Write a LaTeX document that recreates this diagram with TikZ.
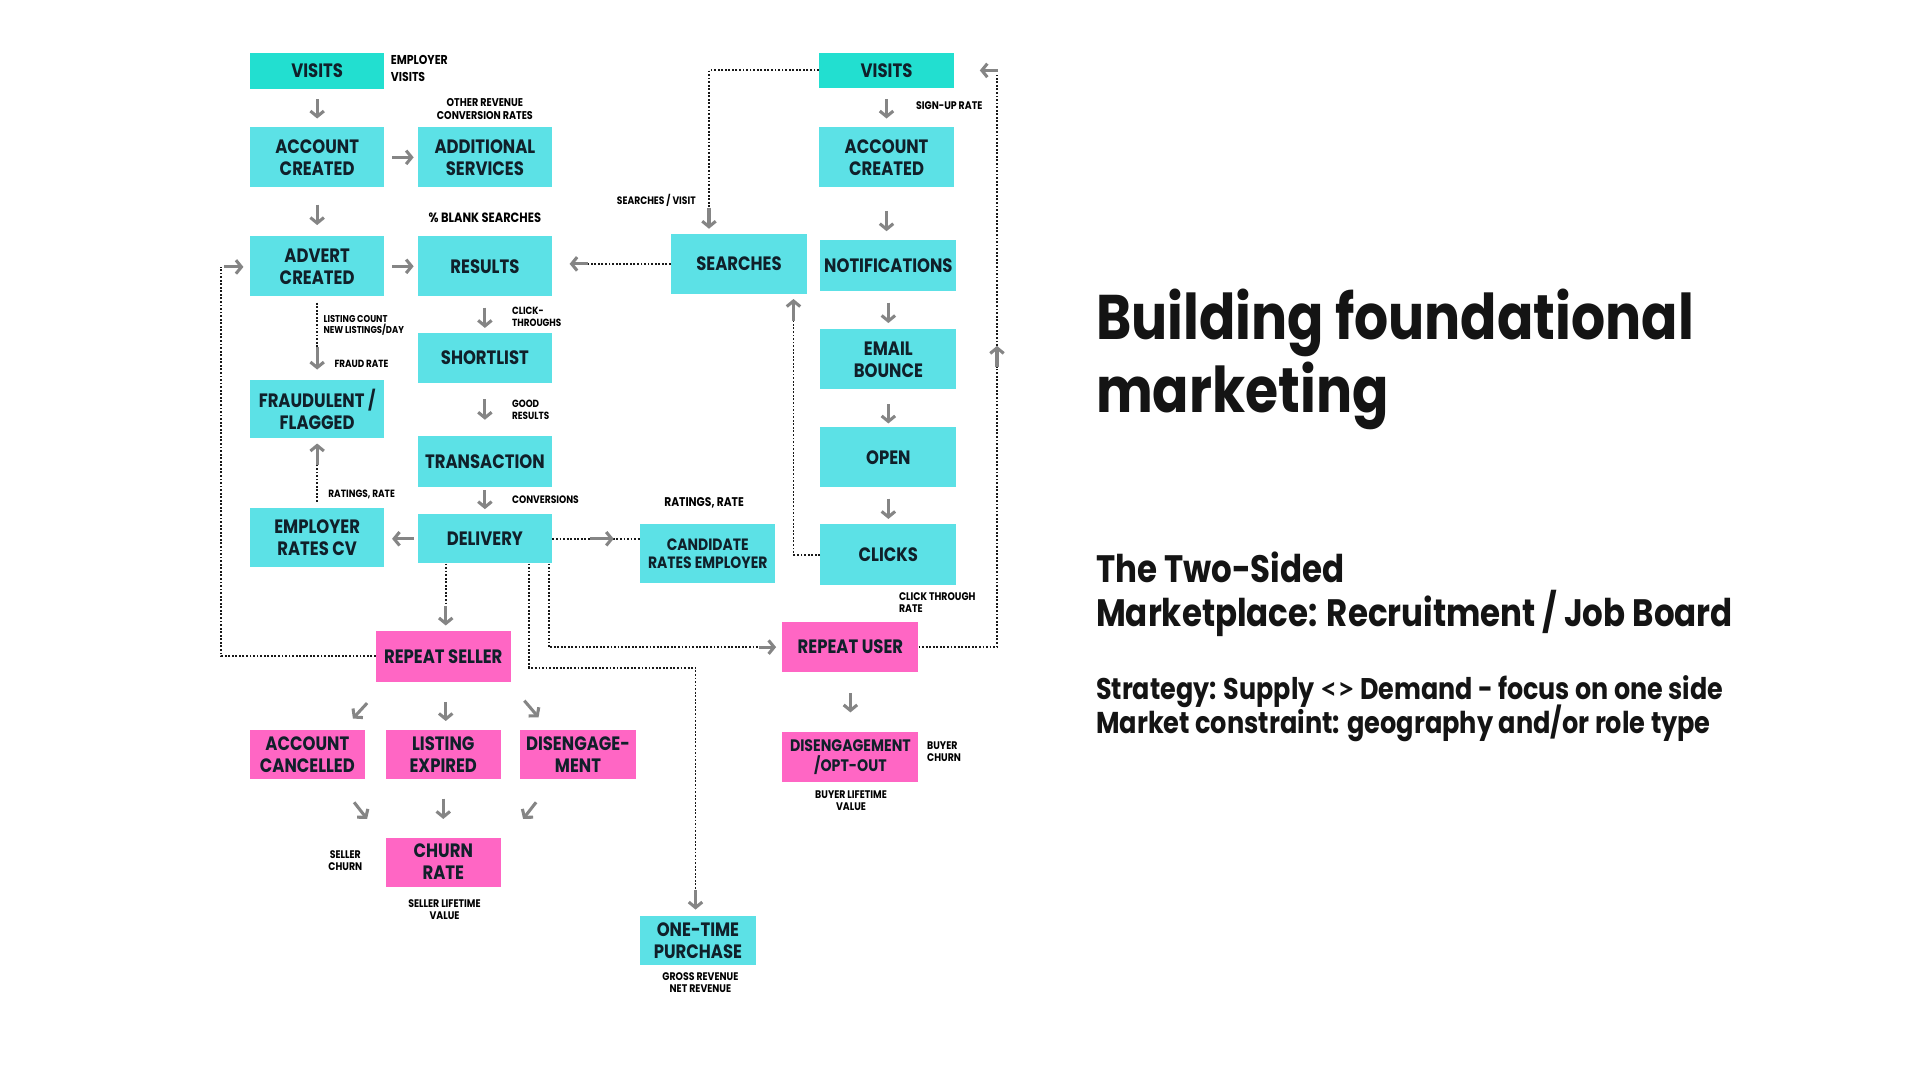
\documentclass[tikz,border=0pt]{standalone}
\usepackage{fontspec}
\setmainfont{Poppins}
\newfontfamily\pf[FakeStretch=0.85]{Poppins}
\newfontfamily\ltf{Lato}
\usetikzlibrary{arrows.meta,calc}
\definecolor{cy}{HTML}{5CE1E6}
\definecolor{tl}{HTML}{22DFD0}
\definecolor{pk}{HTML}{FF66C4}
\definecolor{tx}{HTML}{10202A}
\definecolor{ga}{HTML}{858585}
\begin{document}
\begin{tikzpicture}[
  x=1pt, y=-1pt,
  bx/.style={rectangle, inner sep=0pt, align=center, text=tx,
    font={\pf\bfseries\fontsize{15.8}{18}\selectfont},
    minimum width=110pt, minimum height=49pt},
  cyb/.style={bx, fill=cy},
  tlb/.style={bx, fill=tl},
  pkb/.style={bx, fill=pk},
  lb/.style={inner sep=0pt, text=black, font={\pf\bfseries\fontsize{9}{10}\selectfont}},
  hd/.style={inner sep=0pt, anchor=base west, text=black!92},
  garrow/.style={draw=ga, line width=2.5pt, -{Straight Barb[length=4.5pt,width=11pt]}},
  dots/.style={draw=black!90, line width=1.6pt, dash pattern=on 1.5pt off 1.4pt},
]
\useasboundingbox[fill=white] (0,0) rectangle (1568,882);

% ---------- boxes ----------
\node[tlb, minimum height=30pt] (vL) at (259,58) {VISITS};
\node[cyb] (acL) at (259,128.5) {ACCOUNT\\CREATED};
\node[cyb] (add) at (396,128.5) {ADDITIONAL\\SERVICES};
\node[cyb] (adv) at (259,217.5) {ADVERT\\CREATED};
\node[cyb] (res) at (396,217.5) {RESULTS};
\node[cyb, minimum width=111pt] (srch) at (603.5,215.5) {SEARCHES};
\node[tlb, minimum height=29pt] (vR) at (724,57.5) {VISITS};
\node[cyb] (acR) at (724,128.5) {ACCOUNT\\CREATED};
\node[cyb, minimum width=111pt, minimum height=42pt] (notif) at (725.5,217) {NOTIFICATIONS};
\node[cyb, minimum width=111pt] (email) at (725.5,293.5) {EMAIL\\BOUNCE};
\node[cyb, minimum width=111pt] (open) at (725.5,373.5) {OPEN};
\node[cyb, minimum width=111pt, minimum height=50pt] (clicks) at (725.5,453) {CLICKS};
\node[cyb, minimum height=41pt] (short) at (396,292.5) {SHORTLIST};
\node[cyb, minimum height=42pt] (trans) at (396,377) {TRANSACTION};
\node[cyb, minimum height=40pt] (deliv) at (396,440) {DELIVERY};
\node[cyb, minimum height=48pt] (fraud) at (259,334) {FRAUDULENT /\\FLAGGED};
\node[cyb, minimum height=48pt] (emp) at (259,439) {EMPLOYER\\RATES CV};
\node[cyb, minimum height=48pt, font={\pf\bfseries\fontsize{13.4}{15}\selectfont}] (cand) at (578,452) {CANDIDATE\\RATES EMPLOYER};
\node[pkb, minimum height=42pt] (rsel) at (362,536) {REPEAT SELLER};
\node[pkb, minimum width=111pt, minimum height=41pt] (ruser) at (694.5,528.5) {REPEAT USER};
\node[pkb, minimum width=111pt, minimum height=41pt, font={\pf\bfseries\fontsize{13.6}{16}\selectfont}] (opt) at (694.5,618.5) {DISENGAGEMENT\\/OPT-OUT};
\node[pkb, minimum width=94pt, minimum height=40pt] (acan) at (251,616) {ACCOUNT\\CANCELLED};
\node[pkb, minimum width=94pt, minimum height=40pt] (lexp) at (362,616) {LISTING\\EXPIRED};
\node[pkb, minimum width=94pt, minimum height=40pt] (dis) at (472,616) {DISENGAGE-\\MENT};
\node[pkb, minimum width=94pt, minimum height=40pt] (churn) at (362,704) {CHURN\\RATE};
\node[cyb, minimum width=94pt, minimum height=40pt] (one) at (570,768) {ONE-TIME\\PURCHASE};

% ---------- gray arrows ----------
\draw[garrow, shorten <=8pt, shorten >=7pt] (vL.south) -- (acL.north);
\draw[garrow, shorten <=6pt, shorten >=3pt] (acL.east) -- (add.west);
\draw[garrow, shorten <=14pt, shorten >=9pt] (acL.south) -- (adv.north);
\draw[garrow, shorten <=6pt, shorten >=3pt] (adv.east) -- (res.west);
\draw[garrow, shorten <=9pt, shorten >=4pt] (res.south) -- (short.north);
\draw[garrow, shorten <=13pt, shorten >=13pt] (short.south) -- (trans.north);
\draw[garrow, shorten <=2pt, shorten >=4pt] (trans.south) -- (deliv.north);
\draw[garrow, shorten <=3pt, shorten >=6pt] (deliv.west) -- (deliv.west -| emp.east);
\draw[garrow, shorten <=9pt, shorten >=7pt] (vR.south) -- (acR.north);
\draw[garrow, shorten <=19pt, shorten >=7pt] (acR.south) -- (acR.south |- notif.north);
\draw[garrow, shorten <=9pt, shorten >=5pt] (notif.south) -- (email.north);
\draw[garrow, shorten <=12pt, shorten >=3pt] (email.south) -- (open.north);
\draw[garrow, shorten <=9pt, shorten >=4pt] (open.south) -- (clicks.north);
\draw[garrow, shorten <=17pt, shorten >=16pt] (ruser.south) -- (opt.north);
\draw[garrow, shorten <=16pt, shorten >=7pt] ($(rsel.south)+(2,0)$) -- ($(lexp.north)+(2,0)$);
\draw[garrow, shorten <=16pt, shorten >=15pt] (lexp.south) -- (churn.north);
\draw[garrow] ($(rsel.south west)+(-7,17)$) -- ($(acan.north east)+(-10,-9)$);
\draw[garrow] ($(rsel.south east)+(11,15)$) -- ($(dis.north west)+(15,-10)$);
\draw[garrow] ($(acan.south east)+(-9,19)$) -- ($(churn.north west)+(-15,-15)$);
\draw[garrow] ($(dis.south west)+(13,19)$) -- ($(churn.north east)+(18,-15)$);

% ---------- dotted connectors ----------
% searches -> results
\draw[dots] (srch.west) -- ++(-68,0) coordinate (p1);
\draw[garrow, shorten >=14pt] (p1) -- (p1 -| res.east);
% visits (right) -> searches
\draw[dots] (vR.west) -| ($(srch.north)+(-24.5,-21)$) coordinate (p2);
\draw[garrow, shorten >=4pt] (p2) -- (p2 |- srch.north);
% clicks -> searches
\draw[dots] (clicks.west) -| ($(srch.south)+(44.5,22)$) coordinate (p3);
\draw[garrow, shorten >=4pt] (p3) -- (p3 |- srch.south);
% repeat user -> visits (right)
\draw[dots] (ruser.east) -| ($(vR.east)+(35,242)$) coordinate (p4);
\draw[garrow] (p4) -- ++(0,-17) coordinate (p5);
\draw[dots] (p5) -- ($(p5 |- vR.east)+(0,4)$);
\draw[garrow, shorten >=21pt] ($(p5 |- vR.east)+(1,0)$) -- (vR.east);
% repeat seller -> advert created
\draw[dots] (rsel.west) -| ($(adv.west)+(-23,0.5)$) coordinate (p7);
\draw[garrow, shorten <=2pt, shorten >=5pt] (p7) -- (adv.west |- p7);
% delivery -> candidate rates employer
\draw[dots] (deliv.east) -- (deliv.east -| cand.west);
\draw[garrow] ($(deliv.east)+(31,0)$) -- ($(deliv.east)+(50,0)$);
% delivery -> repeat seller
\draw[dots] ($(deliv.south)+(-32,0)$) -- ++(0,35) coordinate (p8);
\draw[garrow, shorten >=4pt] (p8) -- (p8 |- rsel.north);
% delivery -> one-time purchase
\draw[dots] ($(deliv.south)+(36,0)$) -- ++(0,85) -| ($(one.north)+(-2,-21)$) coordinate (p9);
\draw[garrow, shorten >=5pt] (p9) -- (p9 |- one.north);
% delivery -> repeat user
\draw[dots] ($(deliv.south)+(52,0)$) |- ($(ruser.west)+(-19,0)$) coordinate (p10);
\draw[garrow, shorten >=5pt] (p10) -- (ruser.west);
% advert created -> fraudulent
\draw[dots] ($(adv.south)+(0,5)$) -- ++(0,36) coordinate (p11);
\draw[garrow, shorten >=8pt] (p11) -- (fraud.north);
% employer rates cv -> fraudulent
\draw[dots] ($(emp.north)+(0,-5)$) -- ++(0,-30) coordinate (p12);
\draw[garrow, shorten >=4pt] (p12) -- (fraud.south);

% ---------- labels ----------
\node[lb, anchor=west, align=left, font={\pf\bfseries\fontsize{10.5}{14}\selectfont}] (l1) at (319,56) {EMPLOYER\\VISITS};
\node[lb, align=center, font={\pf\bfseries\fontsize{9.2}{10}\selectfont}] (l2) at (396,89) {OTHER REVENUE\\CONVERSION RATES};
\node[lb, font={\pf\bfseries\fontsize{11}{12}\selectfont}] (l3) at (396,178) {\% BLANK SEARCHES};
\node[lb, font={\pf\bfseries\fontsize{8.8}{10}\selectfont}] (l4) at (536,164) {SEARCHES / VISIT};
\node[lb, anchor=west] (l5) at (748,86) {SIGN-UP RATE};
\node[lb, anchor=west, align=left, font={\pf\bfseries\fontsize{8.1}{9}\selectfont}] (l6) at (264,265.5) {LISTING COUNT\\NEW LISTINGS/DAY};
\node[lb, anchor=west, font={\pf\bfseries\fontsize{8.5}{10}\selectfont}] (l7) at (273,297) {FRAUD RATE};
\node[lb, anchor=west, align=left, font={\pf\bfseries\fontsize{8.5}{10}\selectfont}] (l8) at (418,259) {CLICK-\\THROUGHS};
\node[lb, anchor=west, align=left, font={\pf\bfseries\fontsize{8.5}{9.5}\selectfont}] (l9) at (418,334.5) {GOOD\\RESULTS};
\node[lb, anchor=west, font={\pf\bfseries\fontsize{8.8}{10}\selectfont}] (l10) at (418,408) {CONVERSIONS};
\node[lb, anchor=west, font={\pf\bfseries\fontsize{8.6}{10}\selectfont}] (l11) at (268,404) {RATINGS, RATE};
\node[lb, font={\pf\bfseries\fontsize{10.3}{12}\selectfont}] (l12) at (575,411) {RATINGS, RATE};
\node[lb, anchor=west, align=left] (l13) at (734,492) {CLICK THROUGH\\RATE};
\node[lb, anchor=west, align=left] (l14) at (757,614) {BUYER\\CHURN};
\node[lb, align=center] (l15) at (695,654) {BUYER LIFETIME\\VALUE};
\node[lb, align=center] (l16) at (282,703) {SELLER\\CHURN};
\node[lb, align=center] (l17) at (363,743) {SELLER LIFETIME\\VALUE};
\node[lb, align=center, font={\pf\bfseries\fontsize{9}{9.5}\selectfont}] (l18) at (572,802.5) {GROSS REVENUE\\NET REVENUE};

% ---------- headings ----------
\node[hd, font={\pf\bfseries\fontsize{51.5}{60}\selectfont}] (t1) at (895,277) {Building foundational};
\node[hd, font={\pf\bfseries\fontsize{51.5}{60}\selectfont}] (t2) at (895,337) {marketing};
\node[hd, font={\pf\bfseries\fontsize{31.2}{36}\selectfont}] (t3) at (895,476) {The Two-Sided};
\node[hd, font={\pf\bfseries\fontsize{31.2}{36}\selectfont}] (t4) at (895,512) {Marketplace: Recruitment / Job Board};
\node[hd, font={\pf\bfseries\fontsize{24.4}{28}\selectfont}] (t5) at (895,571) {Strategy: Supply {\ltf\bfseries <\kern0pt>} Demand - focus on one side};
\node[hd, font={\pf\bfseries\fontsize{24.6}{28}\selectfont}] (t6) at (895,599) {Market constraint: geography and/or role type};
\end{tikzpicture}
\end{document}
